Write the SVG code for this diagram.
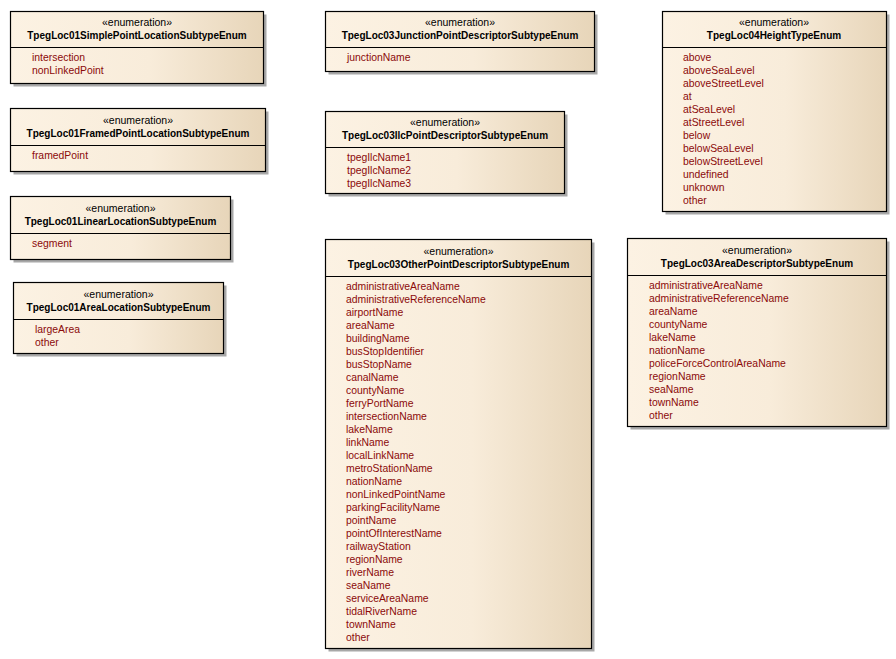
<svg xmlns="http://www.w3.org/2000/svg" width="896" height="659" viewBox="0 0 896 659">
  <defs>
    <linearGradient id="fill" x1="0" y1="0" x2="1" y2="0">
      <stop offset="0" stop-color="#FCF2E3"/>
      <stop offset="0.55" stop-color="#F8ECDA"/>
      <stop offset="1" stop-color="#E7D5B9"/>
    </linearGradient>
  </defs>
  <style>
    .shadow { fill: #A8A8A8; }
    .box { fill: url(#fill); stroke: #000; stroke-width: 1.2; }
    .sep { stroke: #000; stroke-width: 1; }
    .st { font-family: "Liberation Sans", Arial, sans-serif; font-size: 10.5px; fill: #000; text-anchor: middle; }
    .nm { font-family: "Liberation Sans", Arial, sans-serif; font-size: 10px; font-weight: bold; fill: #000; text-anchor: middle; }
    .at { font-family: "Liberation Sans", Arial, sans-serif; font-size: 10.4px; fill: #8B0A0A; }
  </style>
  <rect width="896" height="659" fill="#fff"/>

  <!-- enumeration: TpegLoc01SimplePointLocationSubtypeEnum -->
  <g id="TpegLoc01SimplePointLocationSubtypeEnum">
    <rect class="shadow" x="13.5" y="14.5" width="253" height="72"/>
    <rect class="box" x="10.5" y="11.5" width="253" height="72"/>
    <line class="sep" x1="10.5" y1="47.5" x2="263.5" y2="47.5"/>
    <text class="st" x="137" y="26">«enumeration»</text>
    <text class="nm" x="137" y="39">TpegLoc01SimplePointLocationSubtypeEnum</text>
    <text class="at" x="32" y="61">intersection</text>
    <text class="at" x="32" y="74">nonLinkedPoint</text>
  </g>

  <!-- enumeration: TpegLoc01FramedPointLocationSubtypeEnum -->
  <g id="TpegLoc01FramedPointLocationSubtypeEnum">
    <rect class="shadow" x="13.5" y="111.5" width="255" height="63"/>
    <rect class="box" x="10.5" y="108.5" width="255" height="63"/>
    <line class="sep" x1="10.5" y1="145.5" x2="265.5" y2="145.5"/>
    <text class="st" x="138" y="124">«enumeration»</text>
    <text class="nm" x="138" y="137">TpegLoc01FramedPointLocationSubtypeEnum</text>
    <text class="at" x="32" y="159">framedPoint</text>
  </g>

  <!-- enumeration: TpegLoc01LinearLocationSubtypeEnum -->
  <g id="TpegLoc01LinearLocationSubtypeEnum">
    <rect class="shadow" x="13.5" y="199.5" width="220" height="63"/>
    <rect class="box" x="10.5" y="196.5" width="220" height="63"/>
    <line class="sep" x1="10.5" y1="233.5" x2="230.5" y2="233.5"/>
    <text class="st" x="120.5" y="212">«enumeration»</text>
    <text class="nm" x="120.5" y="225">TpegLoc01LinearLocationSubtypeEnum</text>
    <text class="at" x="32" y="247">segment</text>
  </g>

  <!-- enumeration: TpegLoc01AreaLocationSubtypeEnum -->
  <g id="TpegLoc01AreaLocationSubtypeEnum">
    <rect class="shadow" x="16.5" y="285.5" width="210" height="71"/>
    <rect class="box" x="13.5" y="282.5" width="210" height="71"/>
    <line class="sep" x1="13.5" y1="319.5" x2="223.5" y2="319.5"/>
    <text class="st" x="118.5" y="298">«enumeration»</text>
    <text class="nm" x="118.5" y="311">TpegLoc01AreaLocationSubtypeEnum</text>
    <text class="at" x="35" y="333">largeArea</text>
    <text class="at" x="35" y="346">other</text>
  </g>

  <!-- enumeration: TpegLoc03JunctionPointDescriptorSubtypeEnum -->
  <g id="TpegLoc03JunctionPointDescriptorSubtypeEnum">
    <rect class="shadow" x="328.5" y="14.5" width="269" height="60"/>
    <rect class="box" x="325.5" y="11.5" width="269" height="60"/>
    <line class="sep" x1="325.5" y1="47.5" x2="594.5" y2="47.5"/>
    <text class="st" x="460" y="26">«enumeration»</text>
    <text class="nm" x="460" y="39">TpegLoc03JunctionPointDescriptorSubtypeEnum</text>
    <text class="at" x="347" y="61">junctionName</text>
  </g>

  <!-- enumeration: TpegLoc03IlcPointDescriptorSubtypeEnum -->
  <g id="TpegLoc03IlcPointDescriptorSubtypeEnum">
    <rect class="shadow" x="328.5" y="114.5" width="239" height="82"/>
    <rect class="box" x="325.5" y="111.5" width="239" height="82"/>
    <line class="sep" x1="325.5" y1="147.5" x2="564.5" y2="147.5"/>
    <text class="st" x="445" y="126">«enumeration»</text>
    <text class="nm" x="445" y="139">TpegLoc03IlcPointDescriptorSubtypeEnum</text>
    <text class="at" x="347" y="161">tpegIlcName1</text>
    <text class="at" x="347" y="174">tpegIlcName2</text>
    <text class="at" x="347" y="187">tpegIlcName3</text>
  </g>

  <!-- enumeration: TpegLoc04HeightTypeEnum -->
  <g id="TpegLoc04HeightTypeEnum">
    <rect class="shadow" x="665.5" y="14.5" width="224" height="200"/>
    <rect class="box" x="662.5" y="11.5" width="224" height="200"/>
    <line class="sep" x1="662.5" y1="47.5" x2="886.5" y2="47.5"/>
    <text class="st" x="774" y="26">«enumeration»</text>
    <text class="nm" x="774" y="39">TpegLoc04HeightTypeEnum</text>
    <text class="at" x="683" y="61">above</text>
    <text class="at" x="683" y="74">aboveSeaLevel</text>
    <text class="at" x="683" y="87">aboveStreetLevel</text>
    <text class="at" x="683" y="100">at</text>
    <text class="at" x="683" y="113">atSeaLevel</text>
    <text class="at" x="683" y="126">atStreetLevel</text>
    <text class="at" x="683" y="139">below</text>
    <text class="at" x="683" y="152">belowSeaLevel</text>
    <text class="at" x="683" y="165">belowStreetLevel</text>
    <text class="at" x="683" y="178">undefined</text>
    <text class="at" x="683" y="191">unknown</text>
    <text class="at" x="683" y="204">other</text>
  </g>

  <!-- enumeration: TpegLoc03OtherPointDescriptorSubtypeEnum -->
  <g id="TpegLoc03OtherPointDescriptorSubtypeEnum">
    <rect class="shadow" x="328.5" y="242.5" width="266" height="409"/>
    <rect class="box" x="325.5" y="239.5" width="266" height="409"/>
    <line class="sep" x1="325.5" y1="276.5" x2="591.5" y2="276.5"/>
    <text class="st" x="458.5" y="255">«enumeration»</text>
    <text class="nm" x="458.5" y="268">TpegLoc03OtherPointDescriptorSubtypeEnum</text>
    <text class="at" x="346" y="290">administrativeAreaName</text>
    <text class="at" x="346" y="303">administrativeReferenceName</text>
    <text class="at" x="346" y="316">airportName</text>
    <text class="at" x="346" y="329">areaName</text>
    <text class="at" x="346" y="342">buildingName</text>
    <text class="at" x="346" y="355">busStopIdentifier</text>
    <text class="at" x="346" y="368">busStopName</text>
    <text class="at" x="346" y="381">canalName</text>
    <text class="at" x="346" y="394">countyName</text>
    <text class="at" x="346" y="407">ferryPortName</text>
    <text class="at" x="346" y="420">intersectionName</text>
    <text class="at" x="346" y="433">lakeName</text>
    <text class="at" x="346" y="446">linkName</text>
    <text class="at" x="346" y="459">localLinkName</text>
    <text class="at" x="346" y="472">metroStationName</text>
    <text class="at" x="346" y="485">nationName</text>
    <text class="at" x="346" y="498">nonLinkedPointName</text>
    <text class="at" x="346" y="511">parkingFacilityName</text>
    <text class="at" x="346" y="524">pointName</text>
    <text class="at" x="346" y="537">pointOfInterestName</text>
    <text class="at" x="346" y="550">railwayStation</text>
    <text class="at" x="346" y="563">regionName</text>
    <text class="at" x="346" y="576">riverName</text>
    <text class="at" x="346" y="589">seaName</text>
    <text class="at" x="346" y="602">serviceAreaName</text>
    <text class="at" x="346" y="615">tidalRiverName</text>
    <text class="at" x="346" y="628">townName</text>
    <text class="at" x="346" y="641">other</text>
  </g>

  <!-- enumeration: TpegLoc03AreaDescriptorSubtypeEnum -->
  <g id="TpegLoc03AreaDescriptorSubtypeEnum">
    <rect class="shadow" x="630.5" y="241.5" width="259" height="188"/>
    <rect class="box" x="627.5" y="238.5" width="259" height="188"/>
    <line class="sep" x1="627.5" y1="275.5" x2="886.5" y2="275.5"/>
    <text class="st" x="757" y="254">«enumeration»</text>
    <text class="nm" x="757" y="267">TpegLoc03AreaDescriptorSubtypeEnum</text>
    <text class="at" x="649" y="289">administrativeAreaName</text>
    <text class="at" x="649" y="302">administrativeReferenceName</text>
    <text class="at" x="649" y="315">areaName</text>
    <text class="at" x="649" y="328">countyName</text>
    <text class="at" x="649" y="341">lakeName</text>
    <text class="at" x="649" y="354">nationName</text>
    <text class="at" x="649" y="367">policeForceControlAreaName</text>
    <text class="at" x="649" y="380">regionName</text>
    <text class="at" x="649" y="393">seaName</text>
    <text class="at" x="649" y="406">townName</text>
    <text class="at" x="649" y="419">other</text>
  </g>

  <!-- no associations between these enumerations -->
  <g id="connectors"/>
</svg>
